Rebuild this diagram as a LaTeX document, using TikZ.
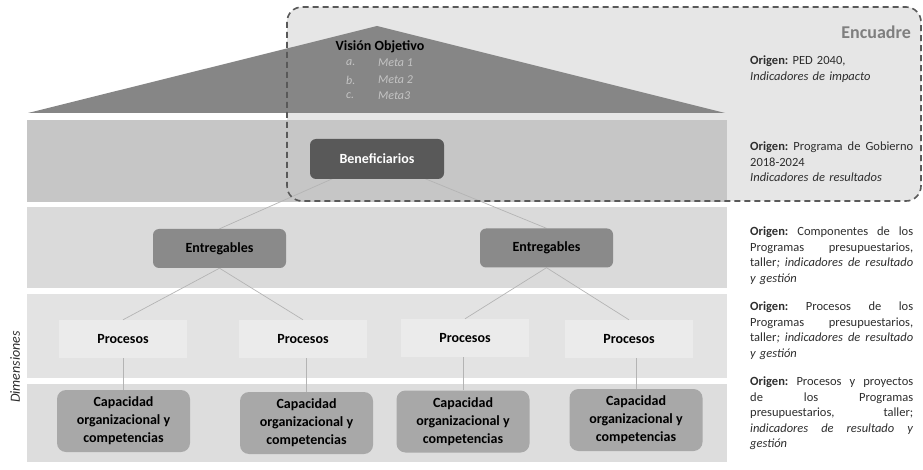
\documentclass[tikz,border=0pt]{standalone}
\usepackage{fontspec}
\setmainfont{Carlito}
\frenchspacing
\newcommand{\jline}[1]{\makebox[163pt][s]{\spaceskip=0.23em plus 4em\relax\xspaceskip=0.23em plus 4em\relax #1}}
\definecolor{boxfill}{HTML}{E6E6E6}
\definecolor{tricol}{HTML}{868686}
\definecolor{bandA}{HTML}{C6C6C6}
\definecolor{bandB}{HTML}{DADADA}
\definecolor{bandC}{HTML}{E3E3E3}
\definecolor{bandD}{HTML}{DDDDDD}
\definecolor{bencol}{HTML}{595959}
\definecolor{entcol}{HTML}{8A8A8A}
\definecolor{capcol}{HTML}{A8A8A8}
\definecolor{linkc}{HTML}{B4B4B4}
\definecolor{txtc}{HTML}{2E2E2E}
\definecolor{metac}{HTML}{C4C4C4}
\definecolor{dashc}{HTML}{595959}
\definecolor{encc}{HTML}{7F7F7F}
\pgfdeclarelayer{bg}
\pgfdeclarelayer{links}
\pgfdeclarelayer{fg}
\pgfsetlayers{bg,links,main,fg}
\begin{document}
\begin{tikzpicture}[x=1pt,y=-1pt,
  lnk/.style={draw=linkc, line width=0.7pt},
  benbox/.style={rounded corners=6pt, fill=bencol, text=white, inner sep=0pt,
    font=\bfseries\fontsize{14}{16}\selectfont, minimum width=134pt, minimum height=40pt},
  entbox/.style={rounded corners=6pt, fill=entcol, text=black, inner sep=0pt,
    font=\bfseries\fontsize{14}{16}\selectfont, minimum width=133pt, minimum height=39pt},
  probox/.style={fill=white, fill opacity=0.3, text opacity=1, text=black, inner sep=0pt,
    font=\bfseries\fontsize{14}{16}\selectfont, minimum width=128pt, minimum height=38pt},
  capbox/.style={rounded corners=9pt, fill=capcol, text=black, inner sep=0pt, align=center,
    font=\bfseries\fontsize{14}{18}\selectfont, minimum width=133pt, minimum height=62pt},
  origen/.style={anchor=north west, inner sep=0pt, text width=163pt, align=left,
    font=\fontsize{12.5}{15.5}\selectfont, text=txtc},
  metatxt/.style={anchor=west, inner sep=0pt, text=metac, font=\itshape\fontsize{12}{14}\selectfont}
]
\useasboundingbox (0,0) rectangle (923,470);

\begin{pgfonlayer}{bg}
  \fill[white] (0,0) rectangle (923,470);
  \fill[boxfill, rounded corners=15pt] (287,7) rectangle (921,201);
  \fill[tricol] (28,113) -- (377,26) -- (725,113) -- cycle;
  \fill[bandA] (27,120) rectangle (727,202);
  \fill[bandB] (27,207) rectangle (727,288);
  \fill[bandC] (27,294) rectangle (727,378);
  \fill[bandD] (27,384) rectangle (727,462);
\end{pgfonlayer}

% triangle texts
\node[inner sep=0pt, font=\bfseries\fontsize{14}{16}\selectfont, text=black] (vision) at (380,47) {Visión Objetivo};
\node[metatxt] (ma) at (346,63) {a.};
\node[metatxt] (m1) at (378,63) {Meta 1};
\node[metatxt] (mb) at (346,80) {b.};
\node[metatxt] (m2) at (378,80) {Meta 2};
\node[metatxt] (mc) at (346,96) {c.};
\node[metatxt] (m3) at (378,96) {Meta3};

% nodes
\node[benbox] (ben) at (377,159) {Beneficiarios};
\node[entbox] (ent1) at (219.5,248.5) {Entregables};
\node[entbox] (ent2) at (546.5,248) {Entregables};
\node[probox] (pro1) at (123,339) {Procesos};
\node[probox] (pro2) at (303,339) {Procesos};
\node[probox] (pro3) at (465,338) {Procesos};
\node[probox] (pro4) at (629,339) {Procesos};
\node[capbox] (cap1) at (123.5,421) {Capacidad\\organizacional y\\competencias};
\node[capbox] (cap2) at (306.5,423) {Capacidad\\organizacional y\\competencias};
\node[capbox] (cap3) at (463,421.5) {Capacidad\\organizacional y\\competencias};
\node[capbox] (cap4) at (636,420) {Capacidad\\organizacional y\\competencias};

\begin{pgfonlayer}{links}
  \draw[lnk] (ben.center) -- (ent1.north);
  \draw[lnk] (ben.center) -- (ent2.north);
  \draw[lnk] (ent1.south) -- (pro1.north);
  \draw[lnk] (ent1.south) -- (pro2.north);
  \draw[lnk] (ent2.south) -- (pro3.north);
  \draw[lnk] (ent2.south) -- (pro4.north);
  \draw[lnk] (cap1.north) -- (cap1.north |- pro1.south);
  \draw[lnk] (cap2.north) -- (cap2.north |- pro2.south);
  \draw[lnk] (cap3.north) -- (cap3.north |- pro3.south);
  \draw[lnk] (cap4.north) -- (cap4.north |- pro4.south);
\end{pgfonlayer}

\begin{pgfonlayer}{fg}
  \draw[dashc, line width=1.6pt, dash pattern=on 6pt off 4pt, rounded corners=15pt] (287,7) rectangle (921,201);
\end{pgfonlayer}

% side texts
\node[rotate=90, inner sep=0pt, text=txtc, font=\itshape\fontsize{14}{16}\selectfont] (dim) at (15,367) {Dimensiones};
\node[anchor=east, inner sep=0pt, text=encc, font=\bfseries\fontsize{18}{20}\selectfont] (enc) at (911,32) {Encuadre};

\node[origen] (o1) at (750,56) {\textbf{Origen:} PED 2040,\\\textit{Indicadores de impacto}};
\node[origen] (o2) at (750,142) {\jline{\textbf{Origen:} Programa de Gobierno}\\2018-2024\\\textit{Indicadores de resultados}};
\node[origen] (o3) at (750,227) {\jline{\textbf{Origen:} Componentes de los}\\\jline{Programas presupuestarios,}\\\jline{taller\textit{; indicadores de resultado}}\\\textit{y gestión}};
\node[origen] (o4) at (750,302) {\jline{\textbf{Origen:} Procesos de los}\\\jline{Programas presupuestarios,}\\\jline{taller\textit{; indicadores de resultado}}\\\textit{y gestión}};
\node[origen] (o5) at (750,377) {\jline{\textbf{Origen:} Procesos y proyectos}\\\jline{de los Programas}\\\jline{presupuestarios, taller;}\\\jline{\textit{indicadores de resultado y}}\\\textit{gestión}};
\end{tikzpicture}
\end{document}
